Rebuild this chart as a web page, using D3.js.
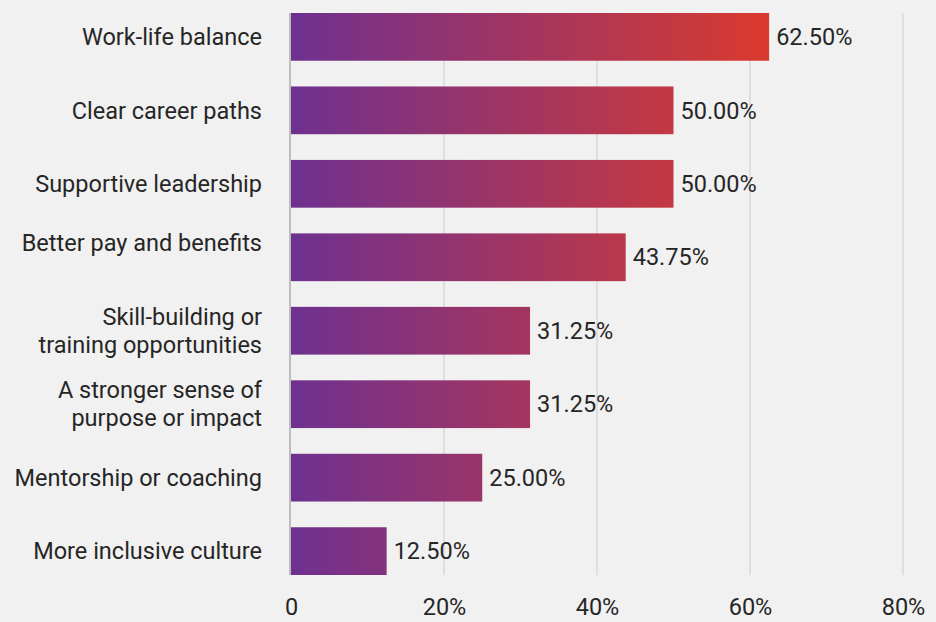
<!DOCTYPE html>
<html>
<head>
<meta charset="utf-8">
<script src="https://cdn.jsdelivr.net/npm/d3@7"></script>
<style>
  html, body { margin: 0; padding: 0; background: #f1f1f1; }
  svg { display: block; }
  text { font-family: Roboto, "Noto Sans", sans-serif; fill: #262626; }
</style>
</head>
<body>
<script>
// Reasons respondents gave, and the share choosing each
const categories = [
  ["Work-life balance"],
  ["Clear career paths"],
  ["Supportive leadership"],
  ["Better pay and benefits", ""],
  ["Skill-building or", "training opportunities"],
  ["A stronger sense of", "purpose or impact"],
  ["Mentorship or coaching"],
  ["More inclusive culture"]
];
const values = [62.5, 50, 50, 43.75, 31.25, 31.25, 25, 12.5];
const tickValues = [0, 20, 40, 60, 80];
const tickLabels = ["0", "20%", "40%", "60%", "80%"];

const W = 936, H = 622;
const margin = { top: 13, right: 33, bottom: 47, left: 291 };
const fontSize = 23.5;

const svg = d3.select("body").append("svg").attr("width", W).attr("height", H);

const x = d3.scaleLinear().domain([0, 80]).range([margin.left, W - margin.right]);
const y = d3.scaleBand().domain(d3.range(values.length))
  .range([margin.top, H - margin.bottom]).paddingInner(0.35).paddingOuter(0);

// One gradient shared by all bars, running from zero to the largest value
const defs = svg.append("defs");
const grad = defs.append("linearGradient").attr("id", "barGrad")
  .attr("gradientUnits", "userSpaceOnUse")
  .attr("x1", x(0)).attr("x2", x(d3.max(values))).attr("y1", 0).attr("y2", 0);
grad.append("stop").attr("offset", "0%").attr("stop-color", "#6e3190");
grad.append("stop").attr("offset", "100%").attr("stop-color", "#da3a2e");

// Vertical gridlines
svg.append("g").selectAll("line").data(tickValues.slice(1)).join("line")
  .attr("x1", d => x(d)).attr("x2", d => x(d))
  .attr("y1", margin.top).attr("y2", H - margin.bottom)
  .attr("stroke", "#d9d9d9").attr("stroke-width", 1.5);

// Bars
svg.append("g").selectAll("rect").data(values).join("rect")
  .attr("x", x(0)).attr("y", (d, i) => y(i))
  .attr("width", d => x(d) - x(0)).attr("height", y.bandwidth())
  .attr("fill", "url(#barGrad)");

// Baseline
svg.append("line")
  .attr("x1", x(0) - 1).attr("x2", x(0) - 1)
  .attr("y1", margin.top).attr("y2", H - margin.bottom)
  .attr("stroke", "#bdbdbd").attr("stroke-width", 2);

// Value labels
svg.append("g").selectAll("text").data(values).join("text")
  .attr("x", d => x(d) + 7)
  .attr("y", (d, i) => y(i) + y.bandwidth() / 2)
  .attr("dy", "0.35em")
  .attr("font-size", fontSize)
  .text(d => d.toFixed(2) + "%");

// Category labels (right aligned, may wrap onto two lines)
const lineH = 28;
const cat = svg.append("g").selectAll("text").data(categories).join("text")
  .attr("text-anchor", "end")
  .attr("font-size", fontSize)
  .attr("y", (d, i) => y(i) + y.bandwidth() / 2 - (d.length - 1) * lineH / 2);
cat.selectAll("tspan").data(d => d).join("tspan")
  .attr("x", 262)
  .attr("dy", (d, j) => j === 0 ? "0.35em" : lineH)
  .text(d => d);

// X axis tick labels
const xAxis = d3.axisBottom(x).tickValues(tickValues)
  .tickFormat((d, i) => tickLabels[i]).tickSize(0).tickPadding(0);
const gx = svg.append("g").attr("transform", `translate(0, ${H - 15})`).call(xAxis);
gx.select(".domain").remove();
gx.selectAll("text").attr("font-size", fontSize).attr("fill", "#262626")
  .attr("font-family", "Roboto, 'Noto Sans', sans-serif").attr("dy", "0.35em").attr("y", 0);
</script>
</body>
</html>
